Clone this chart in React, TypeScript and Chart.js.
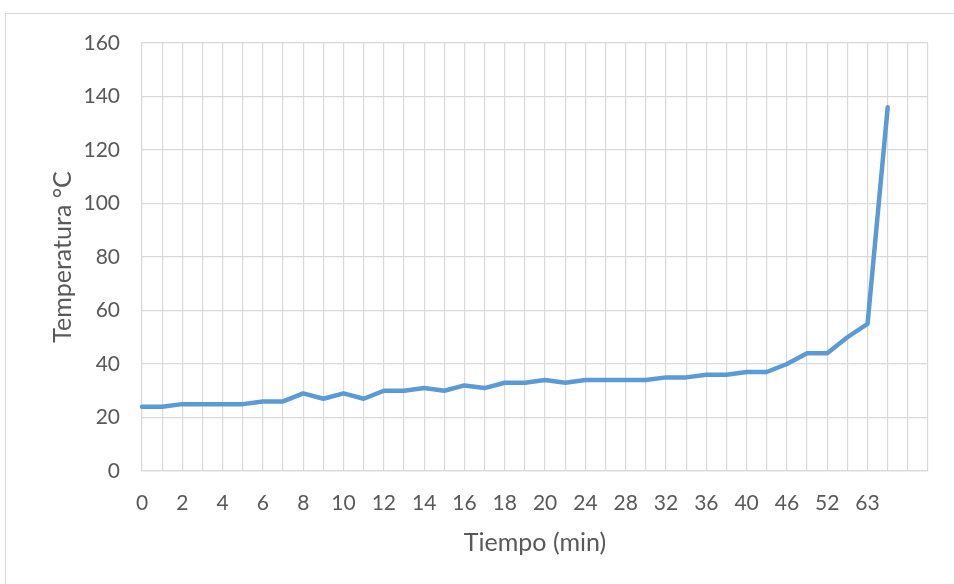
import React, { useEffect, useRef } from "react";
import { Chart, registerables } from "chart.js";

Chart.register(...registerables);

const timeLabels: string[] = [
  "0", "1", "2", "3", "4", "5", "6", "7", "8", "9", "10",
  "11", "12", "13", "14", "15", "16", "17", "18", "19", "20",
  "22", "24", "26", "28", "30", "32", "34", "36", "38", "40",
  "43", "46", "49", "52", "57", "63", "66", "", "",
];

const temperatures: (number | null)[] = [
  24, 24, 25, 25, 25, 25, 26, 26, 29, 27, 29,
  27, 30, 30, 31, 30, 32, 31, 33, 33, 34,
  33, 34, 34, 34, 34, 35, 35, 36, 36, 37,
  37, 40, 44, 44, 50, 55, 136, null, null,
];

const yTitle = "Temperatura °C";
const xTitle = "Tiempo (min)";

const FONT = "Lato, 'Liberation Sans', sans-serif";
const TEXT = "#595959";
const GRID = "#D9D9D9";

export default function App() {
  const ref = useRef<HTMLCanvasElement | null>(null);
  useEffect(() => {
    if (!ref.current) return;
    const chart = new Chart(ref.current, {
      type: "line",
      data: {
        labels: timeLabels,
        datasets: [
          {
            data: temperatures,
            borderColor: "#5B9BD5",
            backgroundColor: "#5B9BD5",
            borderWidth: 4.5,
            pointRadius: 0,
            tension: 0,
            borderCapStyle: "round",
            borderJoinStyle: "round",
          },
        ],
      },
      options: {
        responsive: false,
        animation: false,
        layout: { padding: { left: 0, top: 43, right: 26, bottom: 0 } },
        plugins: { legend: { display: false }, tooltip: { enabled: false } },
        scales: {
          x: {
            type: "category",
            offset: false,
            grid: { color: GRID, lineWidth: 1.2, drawTicks: false },
            border: { color: GRID, width: 1.2 },
            ticks: {
              autoSkip: false,
              maxRotation: 0,
              minRotation: 0,
              padding: 20,
              color: TEXT,
              font: { family: FONT, size: 21 },
              callback: (_v: any, i: number) => (i % 2 === 0 ? timeLabels[i] : ""),
            },
            title: {
              display: true,
              text: xTitle,
              color: TEXT,
              font: { family: FONT, size: 25 },
              padding: { top: 0, bottom: 26 },
            },
            afterFit: (s: any) => {
              s.height = 113;
            },
          },
          y: {
            min: 0,
            max: 160,
            grid: { color: GRID, lineWidth: 1.2, drawTicks: false },
            border: { color: GRID, width: 1.2 },
            ticks: {
              stepSize: 20,
              padding: 22,
              color: TEXT,
              font: { family: FONT, size: 21 },
            },
            title: {
              display: true,
              text: yTitle,
              color: TEXT,
              font: { family: FONT, size: 25 },
              padding: { top: 48, bottom: 0 },
            },
            afterFit: (s: any) => {
              s.width = 142;
            },
          },
        },
      },
    } as any);
    return () => chart.destroy();
  }, []);

  return (
    <div
      style={{
        position: "fixed",
        left: 0,
        top: 0,
        width: 954,
        height: 584,
        overflow: "hidden",
        background: "#fff",
      }}
    >
      <div
        style={{
          position: "absolute",
          left: 5,
          top: 13,
          width: 1000,
          height: 1000,
          border: `1px solid ${GRID}`,
        }}
      />
      <canvas
        ref={ref}
        width={954}
        height={584}
        style={{ position: "absolute", left: 0, top: 0, width: 954, height: 584 }}
      />
    </div>
  );
}
